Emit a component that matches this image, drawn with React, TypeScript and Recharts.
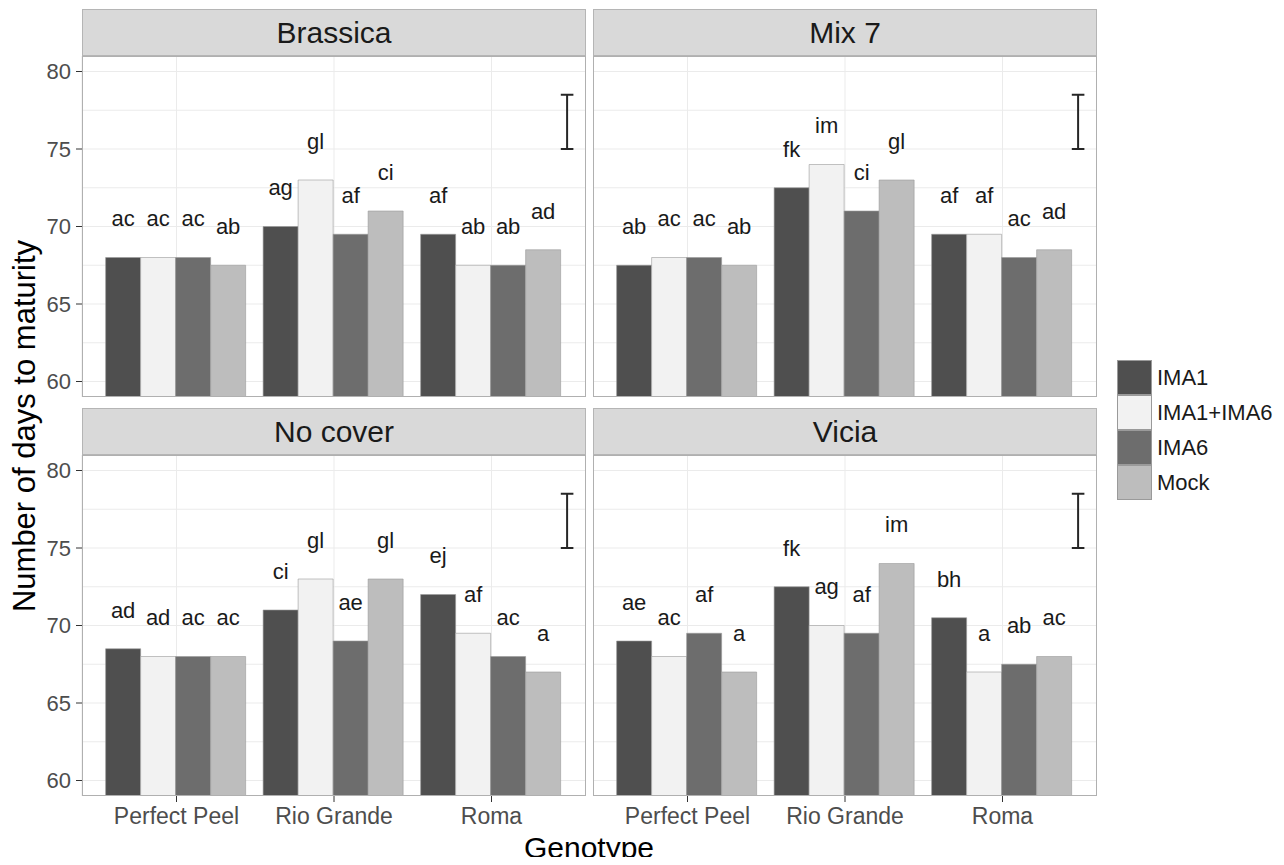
import React from "react";
import {
  BarChart, Bar, XAxis, YAxis, CartesianGrid, LabelList, ReferenceLine
} from "recharts";

// genotypes on the x axis, treatments are the dodged bars
const GENOTYPES = ["Perfect Peel", "Rio Grande", "Roma"];
const TREATMENTS = ["IMA1", "IMA1+IMA6", "IMA6", "Mock"];
const FILLS = ["#4f4f4f", "#f2f2f2", "#6d6d6d", "#bdbdbd"];
const Y_TICKS = [60, 65, 70, 75, 80];
const GRID_VALUES = [60, 62.5, 65, 67.5, 70, 72.5, 75, 77.5, 80];

// days to maturity, rows = genotype, columns = treatment
const brassicaDays = [[68, 68, 68, 67.5], [70, 73, 69.5, 71], [69.5, 67.5, 67.5, 68.5]];
const brassicaLetters = [["ac", "ac", "ac", "ab"], ["ag", "gl", "af", "ci"], ["af", "ab", "ab", "ad"]];
const mix7Days = [[67.5, 68, 68, 67.5], [72.5, 74, 71, 73], [69.5, 69.5, 68, 68.5]];
const mix7Letters = [["ab", "ac", "ac", "ab"], ["fk", "im", "ci", "gl"], ["af", "af", "ac", "ad"]];
const noCoverDays = [[68.5, 68, 68, 68], [71, 73, 69, 73], [72, 69.5, 68, 67]];
const noCoverLetters = [["ad", "ad", "ac", "ac"], ["ci", "gl", "ae", "gl"], ["ej", "af", "ac", "a"]];
const viciaDays = [[69, 68, 69.5, 67], [72.5, 70, 69.5, 74], [70.5, 67, 67.5, 68]];
const viciaLetters = [["ae", "ac", "af", "a"], ["fk", "ag", "af", "im"], ["bh", "a", "ab", "ac"]];

// reference error bar drawn in each panel
const ERR_X = 3.48;
const ERR_LOW = 75;
const ERR_HIGH = 78.5;
const CAP = 0.04;

const Y_MIN = 59;
const Y_MAX = 81;
const LABEL_RISE = 2.5; // letters sit 2.5 days above the bar

const FONT = "'Liberation Sans', Arial, Helvetica, sans-serif";
const PLOT_W = 504;
const PLOT_H = 341;
const STRIP_H = 47;
const Y_W = 60;
const X_H = 50;
const PX_PER_DAY = PLOT_H / (Y_MAX - Y_MIN);

function LetterLabel(props: any) {
  const { x, y, width, value } = props;
  return (
    <text
      x={Number(x) + Number(width) / 2}
      y={Number(y) - LABEL_RISE * PX_PER_DAY}
      textAnchor="middle"
      dominantBaseline="central"
      fontSize={22}
      fontFamily={FONT}
      fill="#1a1a1a"
    >
      {value}
    </text>
  );
}

type PanelProps = {
  title: string;
  days: number[][];
  letters: string[][];
  left: number;
  top: number;
  showX: boolean;
  showY: boolean;
};

function Panel({ title, days, letters, left, top, showX, showY }: PanelProps) {
  const data = GENOTYPES.map((g, i) => {
    const row: any = { genotype: g, pos: i + 1 };
    TREATMENTS.forEach((t, j) => {
      row[t] = days[i][j];
      row["lab_" + t] = letters[i][j];
    });
    return row;
  });
  const yw = showY ? Y_W : 0;
  const xh = showX ? X_H : 0;
  const pad = (PLOT_W - PLOT_W / 3.2 * 3) / 2;
  const errStyle = { stroke: "#262626", strokeWidth: 2, ifOverflow: "visible" as const };

  return (
    <>
      <div
        style={{
          position: "absolute", left, top: top - STRIP_H, width: PLOT_W, height: STRIP_H,
          background: "#d9d9d9", border: "1px solid #b5b5b5", boxSizing: "border-box",
          display: "flex", alignItems: "center", justifyContent: "center",
          fontSize: 30, color: "#1a1a1a", fontFamily: FONT
        }}
      >
        {title}
      </div>
      <div style={{ position: "absolute", left: left - yw, top }}>
        <BarChart
          width={PLOT_W + yw}
          height={PLOT_H + xh}
          data={data}
          margin={{ top: 0, right: 0, bottom: 0, left: 0 }}
          barCategoryGap="5%"
          barGap={0}
        >
          <CartesianGrid stroke="#ebebeb" horizontalValues={GRID_VALUES} />
          <XAxis
            dataKey="genotype"
            padding={{ left: pad, right: pad }}
            hide={!showX}
            height={X_H}
            axisLine={false}
            tickLine={{ stroke: "#333333" }}
            tickSize={6}
            tickMargin={6}
            tick={{ fontSize: 23, fill: "#4d4d4d", fontFamily: FONT }}
            interval={0}
          />
          <XAxis xAxisId="num" dataKey="pos" type="number" domain={[0.4, 3.6]} hide allowDataOverflow />
          <YAxis
            domain={[Y_MIN, Y_MAX]}
            ticks={Y_TICKS}
            allowDataOverflow
            hide={!showY}
            width={Y_W}
            axisLine={false}
            tickLine={{ stroke: "#333333" }}
            tickSize={6}
            tickMargin={5}
            tick={{ fontSize: 22, fill: "#4d4d4d", fontFamily: FONT }}
          />
          {TREATMENTS.map((t, j) => (
            <Bar
              key={t}
              dataKey={t}
              fill={FILLS[j]}
              stroke="#9a9a9a"
              strokeWidth={0.6}
              isAnimationActive={false}
            >
              <LabelList dataKey={"lab_" + t} content={LetterLabel} />
            </Bar>
          ))}
          <ReferenceLine
            xAxisId="num"
            segment={[{ x: ERR_X, y: ERR_LOW }, { x: ERR_X, y: ERR_HIGH }]}
            {...errStyle}
          />
          <ReferenceLine
            xAxisId="num"
            segment={[{ x: ERR_X - CAP, y: ERR_HIGH }, { x: ERR_X + CAP, y: ERR_HIGH }]}
            {...errStyle}
          />
          <ReferenceLine
            xAxisId="num"
            segment={[{ x: ERR_X - CAP, y: ERR_LOW }, { x: ERR_X + CAP, y: ERR_LOW }]}
            {...errStyle}
          />
        </BarChart>
      </div>
      <div
        style={{
          position: "absolute", left, top, width: PLOT_W, height: PLOT_H,
          border: "1px solid #b0b0b0", boxSizing: "border-box", pointerEvents: "none"
        }}
      />
    </>
  );
}

export default function App() {
  const leftX = 82;
  const rightX = 593;
  const topY = 56;
  const bottomY = 455;
  return (
    <div style={{ position: "relative", width: 1284, height: 865, background: "#ffffff", fontFamily: FONT, margin: -8 }}>
      <Panel title="Brassica" days={brassicaDays} letters={brassicaLetters} left={leftX} top={topY} showX={false} showY />
      <Panel title="Mix 7" days={mix7Days} letters={mix7Letters} left={rightX} top={topY} showX={false} showY={false} />
      <Panel title="No cover" days={noCoverDays} letters={noCoverLetters} left={leftX} top={bottomY} showX showY />
      <Panel title="Vicia" days={viciaDays} letters={viciaLetters} left={rightX} top={bottomY} showX showY={false} />

      <div
        style={{
          position: "absolute", left: 25, top: 426, transform: "translate(-50%, -50%) rotate(-90deg)",
          whiteSpace: "nowrap", fontSize: 31, color: "#000000"
        }}
      >
        Number of days to maturity
      </div>
      <div
        style={{
          position: "absolute", left: 589, top: 848, transform: "translate(-50%, -50%)",
          whiteSpace: "nowrap", fontSize: 30, color: "#000000"
        }}
      >
        Genotype
      </div>

      <div style={{ position: "absolute", left: 1117, top: 360 }}>
        {TREATMENTS.map((t, j) => (
          <div key={t} style={{ display: "flex", alignItems: "center", height: 35 }}>
            <div style={{ width: 35, height: 35, background: FILLS[j], border: "0.5px solid #9a9a9a", boxSizing: "border-box" }} />
            <span style={{ marginLeft: 5, fontSize: 22, color: "#1a1a1a" }}>{t}</span>
          </div>
        ))}
      </div>
    </div>
  );
}
